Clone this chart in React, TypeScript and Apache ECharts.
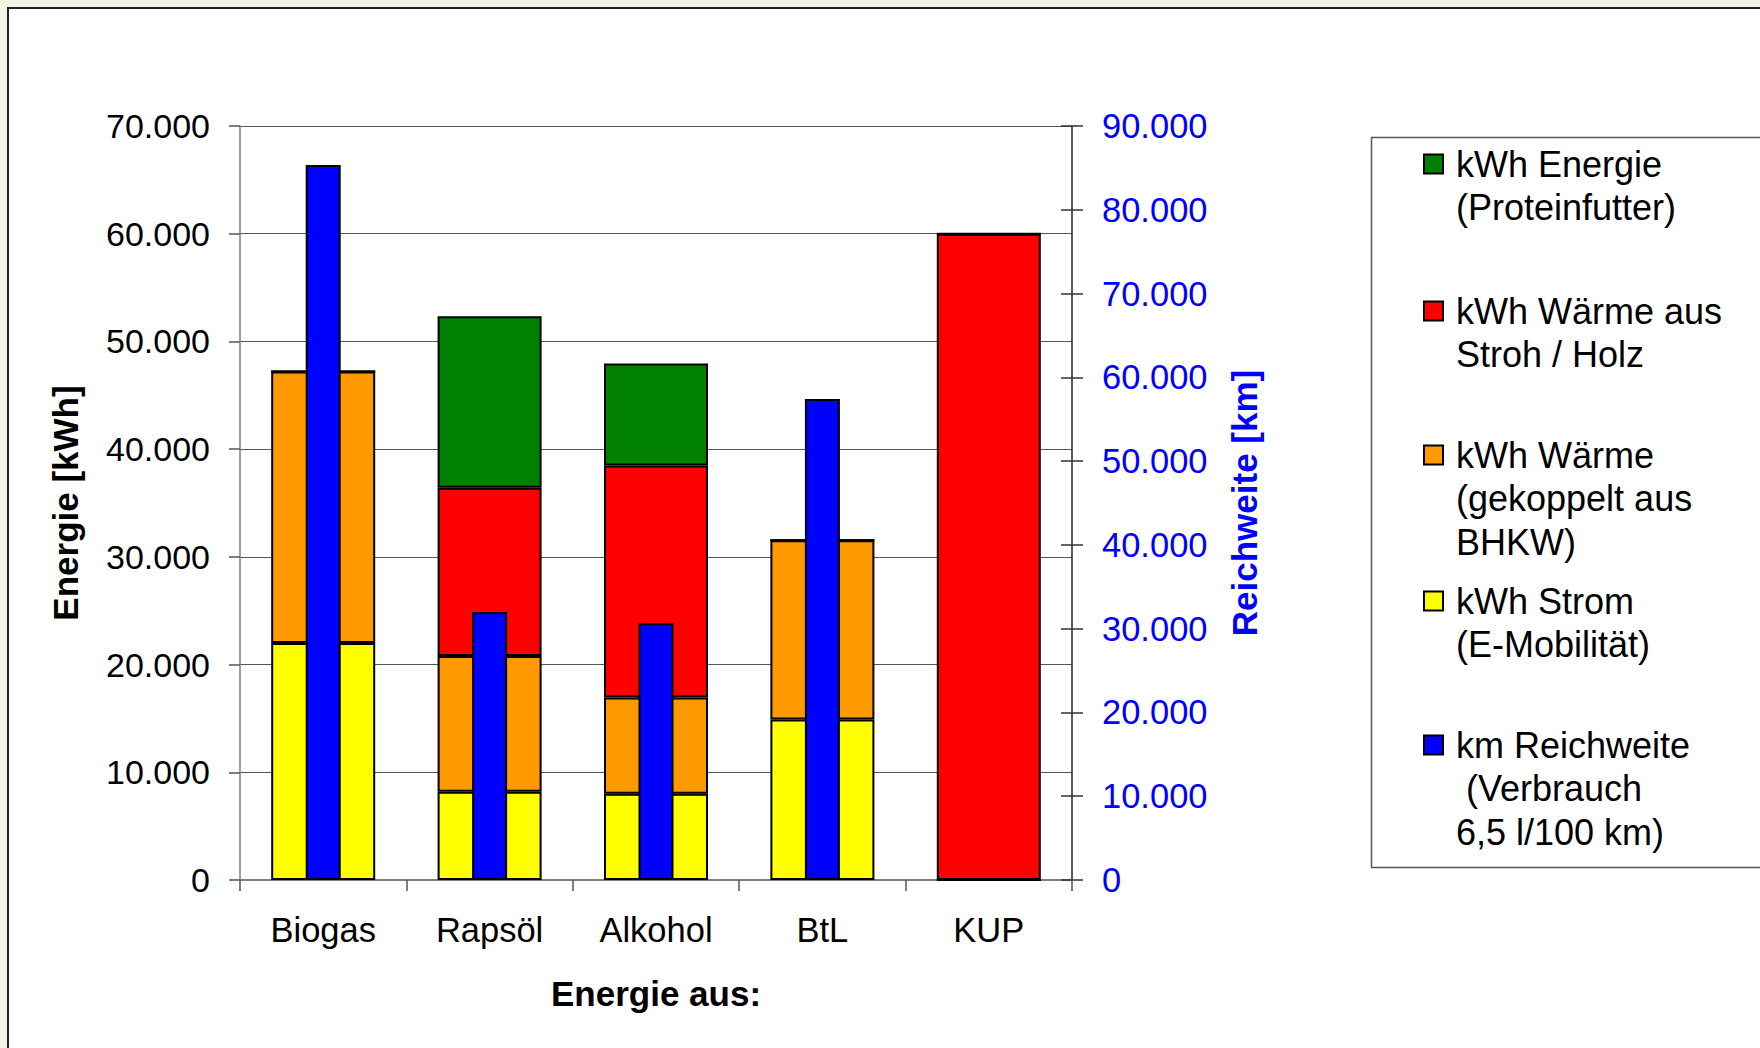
import React, { useEffect, useRef } from "react";
import * as echarts from "echarts";

const categories = ["Biogas", "Rapsöl", "Alkohol", "BtL", "KUP"];
const stromValues = [22000, 8200, 8000, 14900, 0];
const waermeBhkwValues = [25200, 12600, 8950, 16650, 0];
const waermeStrohValues = [0, 15620, 21520, 0, 60000];
const proteinValues = [0, 15910, 9480, 0, 0];
const reichweiteValues = [85350, 32000, 30650, 57400, 0];

const leftTickLabels = ["0", "10.000", "20.000", "30.000", "40.000", "50.000", "60.000", "70.000"];
const rightTickLabels = ["0", "10.000", "20.000", "30.000", "40.000", "50.000", "60.000", "70.000", "80.000", "90.000"];

const SER_PROTEIN = "kWh Energie (Proteinfutter)";
const SER_STROH = "kWh Wärme aus Stroh / Holz";
const SER_BHKW = "kWh Wärme (gekoppelt aus BHKW)";
const SER_STROM = "kWh Strom (E-Mobilität)";
const SER_KM = "km Reichweite (Verbrauch 6,5 l/100 km)";

const legendLines: Record<string, string[]> = {
  [SER_PROTEIN]: ["kWh Energie", "(Proteinfutter)"],
  [SER_STROH]: ["kWh Wärme aus", "Stroh / Holz"],
  [SER_BHKW]: ["kWh Wärme", "(gekoppelt aus", "BHKW)"],
  [SER_STROM]: ["kWh Strom", "(E-Mobilität)"],
  [SER_KM]: ["km Reichweite", " (Verbrauch", "6,5 l/100 km)"],
};
const legendOrder = [SER_PROTEIN, SER_STROH, SER_BHKW, SER_STROM, SER_KM];
const legendFirstLineY = [164, 311, 455, 601, 745];

const FONT = "'Liberation Sans', Arial, sans-serif";

export default function App() {
  const ref = useRef<HTMLDivElement>(null);
  useEffect(() => {
    if (!ref.current) return;
    const chart = echarts.init(ref.current, null, { renderer: "svg" });
    const L = 43.7;
    const legends = legendOrder.map((name, i) => {
      const n = legendLines[name].length;
      const H = (2 * n - 1) * L;
      return {
        data: [name],
        left: 1423,
        top: legendFirstLineY[i] - H / 2,
        orient: "vertical",
        padding: 0,
        icon: "rect",
        itemWidth: 19,
        itemHeight: 19,
        selectedMode: false,
        itemStyle: { borderColor: "#000", borderWidth: 2 },
        formatter: (nm: string) => {
          const lines = legendLines[nm];
          const pad = new Array(lines.length - 1).fill(" ");
          return pad.concat(lines).join("\n");
        },
        textStyle: {
          fontFamily: FONT,
          fontSize: 36,
          color: "#000",
          lineHeight: L,
          padding: [0, 0, 0, 8],
        },
      };
    });
    const barBorder = { borderColor: "#000", borderWidth: 2 };
    chart.setOption({
      animation: false,
      backgroundColor: "#ffffff",
      textStyle: { fontFamily: FONT },
      graphic: [
        { type: "rect", silent: true, shape: { x: 0, y: 0, width: 1760, height: 7 }, style: { fill: "#f0f4e6" } },
        { type: "rect", silent: true, shape: { x: 0, y: 0, width: 7, height: 1048 }, style: { fill: "#f0f4e6" } },
        { type: "rect", silent: true, shape: { x: 7, y: 7, width: 2, height: 1041 }, style: { fill: "#222" } },
        { type: "rect", silent: true, shape: { x: 7, y: 7, width: 1753, height: 2 }, style: { fill: "#222" } },
        {
          type: "rect",
          silent: true,
          shape: { x: 1371.5, y: 137.5, width: 500, height: 730 },
          style: { fill: "none", stroke: "#555", lineWidth: 1.5 },
        },
      ],
      legend: legends,
      grid: { left: 240, top: 126, width: 832, height: 754, containLabel: false },
      xAxis: [
        {
          type: "category",
          data: categories,
          position: "bottom",
          axisLine: { lineStyle: { color: "#808080", width: 2 } },
          axisTick: { show: true, interval: 0, length: 11, lineStyle: { color: "#555", width: 1.5 } },
          axisLabel: { fontFamily: FONT, fontSize: 34.5, color: "#000", margin: 32, interval: 0 },
          name: "Energie aus:",
          nameLocation: "middle",
          nameGap: 96,
          nameTextStyle: { fontFamily: FONT, fontSize: 35, fontWeight: "bold", color: "#000" },
        },
        {
          type: "category",
          data: categories,
          position: "bottom",
          show: false,
        },
      ],
      yAxis: [
        {
          type: "value",
          min: 0,
          max: 70000,
          interval: 10000,
          position: "left",
          axisLine: { show: true, lineStyle: { color: "#808080", width: 1.5 } },
          axisTick: { show: true, length: 11, lineStyle: { color: "#555", width: 1.5 } },
          axisLabel: {
            fontFamily: FONT,
            fontSize: 34,
            color: "#000",
            margin: 30,
            formatter: (v: number) => leftTickLabels[Math.round(v / 10000)],
          },
          splitLine: { show: true, lineStyle: { color: "#555", width: 1.2 } },
          name: "Energie [kWh]",
          nameLocation: "middle",
          nameGap: 157,
          nameTextStyle: { fontFamily: FONT, fontSize: 35, fontWeight: "bold", color: "#000" },
        },
        {
          type: "value",
          min: 0,
          max: 90000,
          interval: 10000,
          position: "right",
          axisLine: { show: true, lineStyle: { color: "#222", width: 1.5 } },
          axisTick: { show: true, length: 11, lineStyle: { color: "#333", width: 1.5 } },
          axisLabel: {
            fontFamily: FONT,
            fontSize: 34.5,
            color: "#0000ff",
            margin: 30,
            formatter: (v: number) => rightTickLabels[Math.round(v / 10000)],
          },
          splitLine: { show: false },
          name: "Reichweite [km]",
          nameLocation: "middle",
          nameGap: 155,
          nameTextStyle: { fontFamily: FONT, fontSize: 35, fontWeight: "bold", color: "#0000ff" },
        },
        {
          type: "value",
          min: 0,
          max: 90000,
          interval: 10000,
          position: "right",
          axisLine: { show: false },
          axisTick: { show: true, inside: true, length: 11, lineStyle: { color: "#333", width: 1.5 } },
          axisLabel: { show: false },
          splitLine: { show: false },
        },
      ],
      series: [
        {
          name: SER_STROM,
          type: "bar",
          stack: "energie",
          xAxisIndex: 0,
          yAxisIndex: 0,
          barWidth: 104,
          data: stromValues,
          itemStyle: { color: "#ffff00", ...barBorder },
        },
        {
          name: SER_BHKW,
          type: "bar",
          stack: "energie",
          xAxisIndex: 0,
          yAxisIndex: 0,
          barWidth: 104,
          data: waermeBhkwValues,
          itemStyle: { color: "#ff9900", ...barBorder },
        },
        {
          name: SER_STROH,
          type: "bar",
          stack: "energie",
          xAxisIndex: 0,
          yAxisIndex: 0,
          barWidth: 104,
          data: waermeStrohValues,
          itemStyle: { color: "#ff0000", ...barBorder },
        },
        {
          name: SER_PROTEIN,
          type: "bar",
          stack: "energie",
          xAxisIndex: 0,
          yAxisIndex: 0,
          barWidth: 104,
          data: proteinValues,
          itemStyle: { color: "#008000", ...barBorder },
        },
        {
          name: SER_KM,
          type: "bar",
          xAxisIndex: 1,
          yAxisIndex: 1,
          barWidth: 35,
          data: reichweiteValues,
          itemStyle: { color: "#0000ff", ...barBorder },
        },
      ],
    });
    return () => chart.dispose();
  }, []);
  return (
    <div
      ref={ref}
      style={{ position: "fixed", left: 0, top: 0, width: 1760, height: 1048 }}
    />
  );
}
